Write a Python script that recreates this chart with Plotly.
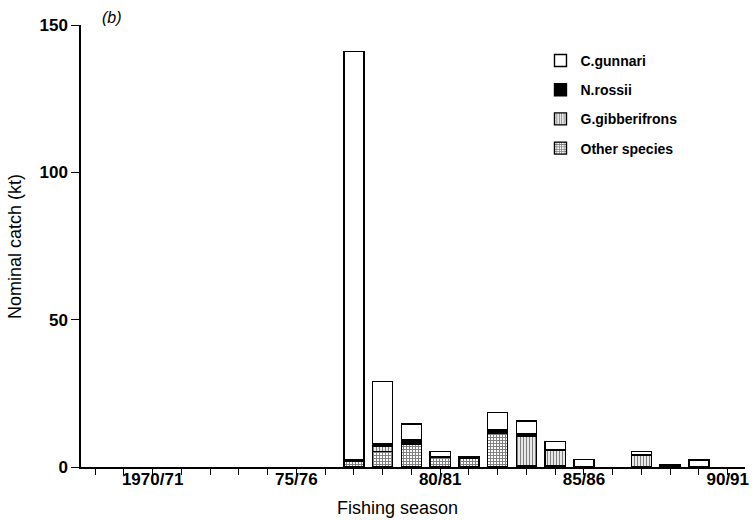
import plotly.graph_objects as go

seasons = ["1968/69", "1969/70", "1970/71", "1971/72", "1972/73", "1973/74",
           "1974/75", "1975/76", "1976/77", "1977/78", "1978/79", "1979/80",
           "1980/81", "1981/82", "1982/83", "1983/84", "1984/85", "1985/86",
           "1986/87", "1987/88", "1988/89", "1989/90", "1990/91"]

c_gunnari = [0, 0, 0, 0, 0, 0, 0, 0, 0, 138.5, 21.3, 5.3, 1.7, 0.1, 6.0, 4.3, 2.6, 2.5, 0, 1.1, 0, 2.3, 0]
n_rossii = [0, 0, 0, 0, 0, 0, 0, 0, 0, 0.5, 0.8, 1.7, 0.3, 0.4, 0.8, 0.8, 0.3, 0, 0, 0.2, 0.8, 0.1, 0]
g_gibberifrons = [0, 0, 0, 0, 0, 0, 0, 0, 0, 0, 1.7, 0, 0, 0, 0.3, 10.0, 5.3, 0, 0, 4.0, 0, 0, 0]
other_species = [0, 0, 0, 0, 0, 0, 0, 0, 0, 2.0, 5.3, 7.6, 3.2, 3.0, 11.4, 0.5, 0.4, 0.1, 0, 0, 0.1, 0, 0]

tick_labels = {"1970/71": "1970/71", "1975/76": "75/76", "1980/81": "80/81",
               "1985/86": "85/86", "1990/91": "90/91"}
y_ticks = [0, 50, 100, 150]

FONT = "Liberation Sans"

fig = go.Figure()

def add(name, values, color, pattern, rank):
    marker = dict(color=color, line=dict(color="black", width=1.4))
    if pattern:
        marker["pattern"] = pattern
    fig.add_trace(go.Bar(x=seasons, y=[v if v else None for v in values],
                         name=name, marker=marker, width=0.7,
                         legendgroup=name, legendrank=rank))

add("Other species", other_species, "white",
    dict(shape="+", fgcolor="black", bgcolor="white", size=3, solidity=0.55), 4)
add("G.gibberifrons", g_gibberifrons, "white",
    dict(shape="|", fgcolor="black", bgcolor="white", size=3, solidity=0.45), 3)
add("N.rossii", n_rossii, "black", None, 2)
add("C.gunnari", c_gunnari, "white", None, 1)

fig.update_layout(
    width=755, height=520,
    barmode="stack",
    plot_bgcolor="white", paper_bgcolor="white",
    margin=dict(l=81, r=10, t=25, b=53, autoexpand=False),
    font=dict(family=FONT, color="black"),
    legend=dict(x=0.692, y=0.955, xanchor="left", yanchor="top",
                traceorder="grouped", tracegroupgap=8,
                font=dict(family=FONT, size=14, weight="bold"),
                bgcolor="rgba(0,0,0,0)"),
    xaxis=dict(type="category", range=[-0.49, 22.6],
               tickvals=seasons,
               ticktext=[tick_labels.get(s, "") for s in seasons],
               showline=True, linecolor="black", linewidth=1.5,
               ticks="outside", ticklen=6, tickwidth=1.3, tickcolor="black",
               ticklabelstandoff=-10,
               showgrid=False, zeroline=False,
               tickfont=dict(family=FONT, size=17, weight="bold")),
    yaxis=dict(range=[0, 150], tickvals=y_ticks,
               showline=True, linecolor="black", linewidth=1.5,
               ticks="outside", ticklen=8, tickwidth=1.3, tickcolor="black",
               showgrid=False, zeroline=False,
               tickfont=dict(family=FONT, size=17, weight="bold")),
    annotations=[
        dict(text="(b)", x=0.047, y=1.016, xref="paper", yref="paper",
             showarrow=False, xanchor="center", yanchor="middle",
             font=dict(family=FONT, size=16, style="italic")),
        dict(text="Fishing season", x=0.476, y=-0.093, xref="paper", yref="paper",
             showarrow=False, xanchor="center", yanchor="middle",
             font=dict(family=FONT, size=18)),
        dict(text="Nominal catch (kt)", x=-0.0994, y=0.5, xref="paper", yref="paper",
             showarrow=False, xanchor="center", yanchor="middle", textangle=-90,
             font=dict(family=FONT, size=18)),
    ],
)

fig.write_html("out.html", config={"displayModeBar": False},
               post_script="document.body.style.margin='0';")
